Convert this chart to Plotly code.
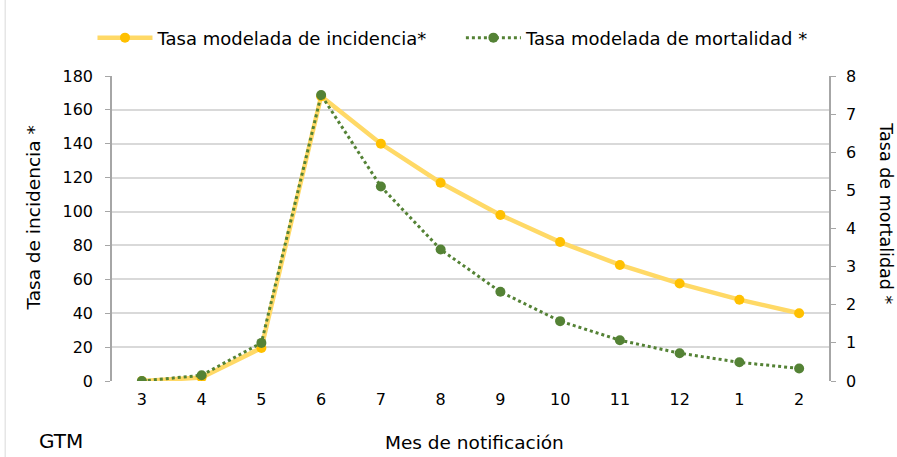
import plotly.graph_objects as go

meses = ["3", "4", "5", "6", "7", "8", "9", "10", "11", "12", "1", "2"]
incidencia = [0, 2, 19.5, 168, 140, 117, 98, 82, 68.5, 57.5, 48, 40]
mortalidad = [0, 0.15, 1.0, 7.5, 5.1, 3.45, 2.34, 1.57, 1.07, 0.73, 0.49, 0.33]

fuente = "DejaVu Sans"
nb = "\u00a0"

fig = go.Figure()

fig.add_trace(go.Scatter(x=meses, y=incidencia,
                         name="Tasa modelada de incidencia*" + nb * 5,
                         mode="lines+markers",
                         line=dict(color="#FFD966", width=4.5),
                         marker=dict(color="#FFC000", size=10)))

fig.add_trace(go.Scatter(x=meses, y=mortalidad,
                         name="Tasa modelada de mortalidad *",
                         mode="lines+markers",
                         yaxis="y2",
                         line=dict(color="#548235", width=3, dash="dot"),
                         marker=dict(color="#548235", size=10)))

fig.update_layout(
    width=897,
    height=457,
    margin=dict(l=112, r=68, t=76, b=76, autoexpand=False),
    paper_bgcolor="white",
    plot_bgcolor="white",
    font=dict(family=fuente, size=16, color="#000000"),
    showlegend=True,
    legend=dict(orientation="h", xref="container", yref="container",
                x=0.505, xanchor="center", y=0.917, yanchor="middle",
                font=dict(size=18), itemwidth=55, traceorder="normal"),
    xaxis=dict(type="category", range=[-0.5, 11.5], showgrid=False,
               showline=False, ticks="", zeroline=False, automargin=False,
               ticklabelstandoff=7),
    yaxis=dict(range=[0, 180], dtick=20, showgrid=True, gridcolor="#D9D9D9",
               gridwidth=1.5, showline=True, linecolor="#A6A6A6", linewidth=1.5,
               ticks="outside", ticklen=5, tickcolor="#A6A6A6", zeroline=False,
               automargin=False, ticklabelstandoff=9),
    yaxis2=dict(range=[0, 8], dtick=1, overlaying="y", side="right",
                showgrid=False, showline=True, linecolor="#A6A6A6",
                linewidth=1.5, ticks="outside", ticklen=5, tickcolor="#A6A6A6",
                zeroline=False, automargin=False, ticklabelstandoff=7),
    annotations=[
        dict(text="Tasa de incidencia *", xref="paper", yref="paper",
             x=-0.110, y=0.533, textangle=-90, showarrow=False,
             xanchor="center", yanchor="middle", font=dict(size=18.5)),
        dict(text="Tasa de mortalidad *", xref="paper", yref="paper",
             x=1.079, y=0.551, textangle=90, showarrow=False,
             xanchor="center", yanchor="middle", font=dict(size=17.5)),
        dict(text="Mes de notificación", xref="paper", yref="paper",
             x=0.506, y=-0.203, showarrow=False,
             xanchor="center", yanchor="middle", font=dict(size=18.5)),
        dict(text="GTM", xref="paper", yref="paper", x=-0.071, y=-0.197,
             xanchor="center", yanchor="middle", showarrow=False,
             font=dict(size=20)),
    ],
    shapes=[dict(type="line", xref="paper", yref="paper", x0=-0.149, x1=-0.149,
                 y0=-0.26, y1=1.25, line=dict(color="#D9D9D9", width=1))],
)

fig.write_html("out.html",
               config={"displayModeBar": False},
               post_script="document.body.style.margin='0';"
                           "document.body.style.overflow='hidden';")
